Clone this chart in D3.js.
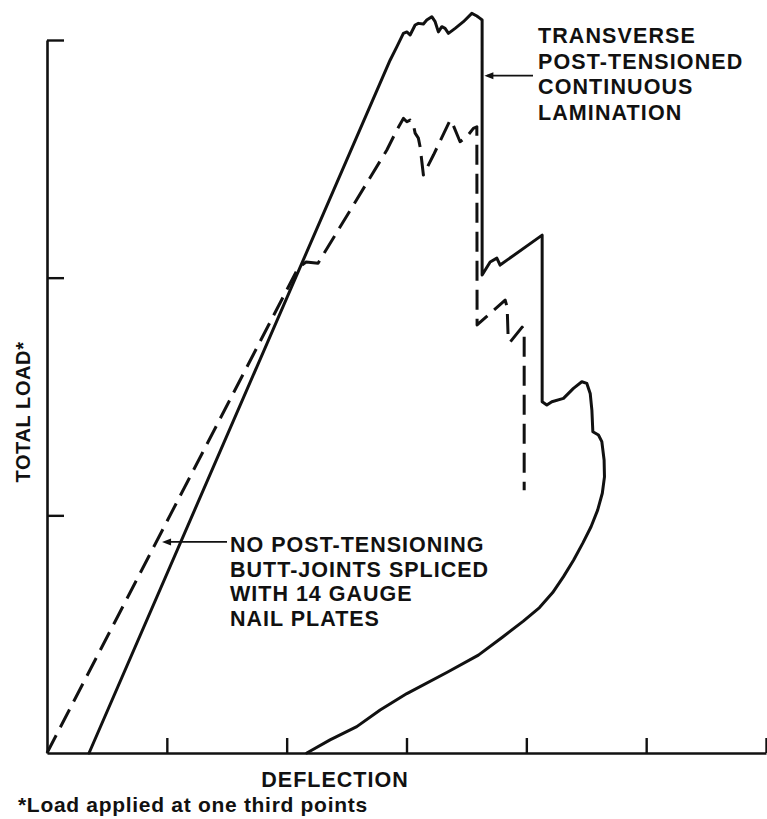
<!DOCTYPE html>
<html>
<head>
<meta charset="utf-8">
<script src="https://cdn.jsdelivr.net/npm/d3@7"></script>
<style>
  html, body { margin: 0; padding: 0; background: #fff; }
  svg { display: block; }
  text { font-family: "Liberation Sans", Arial, Helvetica, sans-serif; fill: #111; }
</style>
</head>
<body>
<svg id="chart" width="767" height="819"></svg>
<script>
// Axis ticks (deflection and load units; unlabelled in the figure)
const xTicks = [0, 1, 2, 3, 4, 5, 6];
const yTicks = [0, 1, 2, 3];

// Transverse post-tensioned continuous lamination: [deflection, load]
const postTensioned = [
  [0.351, 0], [2.863, 2.915], [2.919, 2.971], [2.974, 3.028], [3.003, 3.034],
  [3.030, 3.021], [3.072, 3.063], [3.099, 3.070], [3.141, 3.067], [3.169, 3.084],
  [3.211, 3.098], [3.239, 3.077], [3.266, 3.034], [3.295, 3.056], [3.322, 3.049],
  [3.350, 3.028], [3.406, 3.049], [3.475, 3.077], [3.545, 3.112], [3.587, 3.101],
  [3.614, 3.091], [3.631, 3.084], [3.631, 2.011], [3.698, 2.066], [3.754, 2.082],
  [3.781, 2.053], [4.132, 2.179], [4.132, 1.478], [4.171, 1.464], [4.213, 1.478],
  [4.310, 1.492], [4.393, 1.534], [4.463, 1.562], [4.505, 1.555], [4.533, 1.513],
  [4.547, 1.443], [4.555, 1.352], [4.602, 1.338], [4.630, 1.310], [4.649, 1.233],
  [4.652, 1.162], [4.634, 1.093], [4.595, 1.022], [4.540, 0.952], [4.470, 0.882],
  [4.395, 0.812], [4.310, 0.742], [4.220, 0.675], [4.110, 0.612], [3.975, 0.555],
  [3.800, 0.487], [3.600, 0.412], [3.340, 0.340], [3.003, 0.250], [2.780, 0.181],
  [2.585, 0.111], [2.362, 0.055], [2.168, 0]
];

// No post-tensioning, butt-joints spliced with 14 gauge nail plates: [deflection, load]
const nailPlates = [
  [0, 0], [2.095, 2.040], [2.162, 2.066], [2.262, 2.061], [2.836, 2.537],
  [2.919, 2.621], [2.974, 2.670], [3.003, 2.656], [3.030, 2.663], [3.058, 2.642],
  [3.072, 2.608], [3.099, 2.587], [3.114, 2.549], [3.141, 2.432], [3.225, 2.516],
  [3.364, 2.663], [3.378, 2.656], [3.447, 2.572], [3.503, 2.593], [3.558, 2.628],
  [3.587, 2.635], [3.589, 1.801], [3.823, 1.906], [3.840, 1.876], [3.848, 1.750],
  [3.865, 1.729], [3.965, 1.792], [3.982, 1.779], [3.982, 1.106]
];

// Callout labels: lines of text and the point on the curve they point to
const topLabel = ["TRANSVERSE", "POST-TENSIONED", "CONTINUOUS", "LAMINATION"];
const topTarget = [3.65, 2.85];
const bottomLabel = ["NO POST-TENSIONING", "BUTT-JOINTS SPLICED", "WITH 14 GAUGE", "NAIL PLATES"];
const bottomTarget = [0.96, 0.888];

const svg = d3.select("#chart");

const x = d3.scaleLinear().domain([0, 6]).range([47, 766]);
const y = d3.scaleLinear().domain([0, 3]).range([753, 40]);

// Axes: ticks point into the plot, no tick labels
const xAxis = d3.axisBottom(x).tickValues(xTicks).tickSize(-15).tickSizeOuter(0).tickFormat("");
const yAxis = d3.axisLeft(y).tickValues(yTicks).tickSize(-17).tickSizeOuter(0).tickFormat("");

const gx = svg.append("g").attr("transform", `translate(0,${y(0)})`).call(xAxis);
const gy = svg.append("g").attr("transform", `translate(${x(0)},0)`).call(yAxis);
[gx, gy].forEach(g => {
  g.select(".domain").attr("stroke", "#111").attr("stroke-width", 2.6);
  g.selectAll(".tick line").attr("stroke", "#111").attr("stroke-width", 2.4);
});
gx.selectAll(".tick").filter(d => d === 0).remove();
gy.selectAll(".tick").filter(d => d === 0).remove();

const line = d3.line().x(d => x(d[0])).y(d => y(d[1]));

svg.append("path")
  .datum(postTensioned)
  .attr("d", line)
  .attr("fill", "none")
  .attr("stroke", "#111")
  .attr("stroke-width", 3)
  .attr("stroke-linejoin", "round")
  .attr("stroke-linecap", "round");

svg.append("path")
  .datum(nailPlates)
  .attr("d", line)
  .attr("fill", "none")
  .attr("stroke", "#111")
  .attr("stroke-width", 3)
  .attr("stroke-dasharray", "20,9")
  .attr("stroke-linejoin", "round");

// Leader with arrowhead pointing left at the curve
function leader(tx, ty, fromX) {
  const px = x(tx), py = y(ty);
  svg.append("line")
    .attr("x1", fromX).attr("y1", py).attr("x2", px + 3).attr("y2", py)
    .attr("stroke", "#111").attr("stroke-width", 1.8);
  svg.append("path")
    .attr("d", `M${px},${py} L${px + 9},${py - 3.5} L${px + 9},${py + 3.5} Z`)
    .attr("fill", "#111");
}

function block(lines, x0, y0, dy, size, spacing) {
  svg.append("g").selectAll("text").data(lines).join("text")
    .attr("x", x0)
    .attr("y", (d, i) => y0 + i * dy)
    .attr("font-size", size)
    .attr("font-weight", "bold")
    .attr("letter-spacing", spacing)
    .text(d => d);
}

block(topLabel, 538, 43, 25.5, 21.5, 1.1);
leader(topTarget[0], topTarget[1], 533);

block(bottomLabel, 230, 552, 24.7, 21.5, 1.0);
leader(bottomTarget[0], bottomTarget[1], 227);

// Axis titles and footnote
svg.append("text")
  .attr("transform", "translate(30,412) rotate(-90)")
  .attr("text-anchor", "middle")
  .attr("font-size", 20)
  .attr("font-weight", "bold")
  .attr("letter-spacing", 0.6)
  .text("TOTAL LOAD*");

svg.append("text")
  .attr("x", 335).attr("y", 787)
  .attr("text-anchor", "middle")
  .attr("font-size", 21.5)
  .attr("font-weight", "bold")
  .attr("letter-spacing", 1)
  .text("DEFLECTION");

svg.append("text")
  .attr("x", 18).attr("y", 812)
  .attr("font-size", 21)
  .attr("font-weight", "bold")
  .attr("letter-spacing", 0.7)
  .text("*Load applied at one third points");
</script>
</body>
</html>
